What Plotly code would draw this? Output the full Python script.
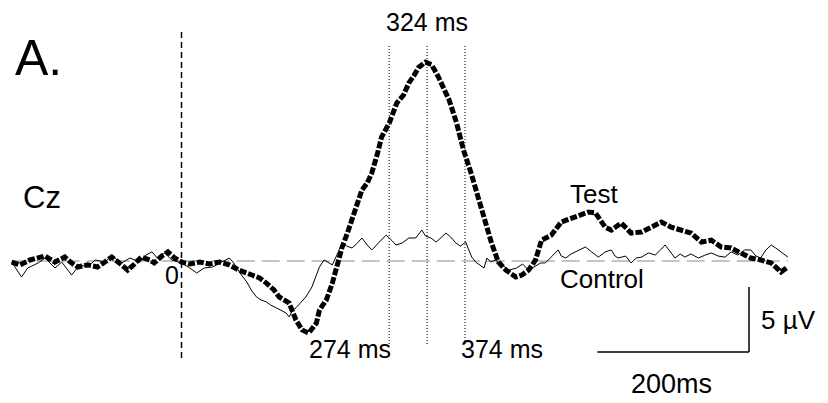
import plotly.graph_objects as go

# ---- data (time in ms, amplitude in µV) ----
test_t = [-224, -213, -200, -180, -167, -154, -145, -137, -124, -111, -101, -92, -82, -71, -62, -53, -42, -36, -26, -18, -9,
          0, 11, 24, 37, 50, 63, 76, 93, 103, 112, 122, 129, 142, 151, 159, 168, 178, 182, 191, 199, 205, 212, 218, 225,
          232, 238, 245, 251, 258, 264, 274, 284, 293, 300, 307, 313, 322, 330, 339, 346, 353, 363, 372, 382, 392, 401,
          409, 418, 428, 441, 449, 458, 467, 475, 488, 501, 514, 528, 537, 546, 559, 567, 580, 593, 607, 620, 633, 646,
          659, 672, 686, 699, 712, 725, 738, 751, 764, 778, 791, 800]
test_v = [-0.08, -0.3, 0.08, 0.38, -0.08, 0.3, -0.15, -0.46, -0.3, -0.46, -0.08, 0.3, -0.15, -0.7, -0.23, 0.3, 0.08, -0.15, 0.38, 0.7, 0.23,
          -0.08, -0.23, -0.08, -0.23, -0.08, -0.3, -0.7, -1.08, -1.3, -1.7, -2.23, -2.77, -3.23, -4.54, -5.3, -5.54, -4.77, -3.77, -3.0, -1.7, -0.3, 1.08, 2.0, 3.15,
          4.3, 5.46, 6.0, 6.77, 8.15, 9.54, 10.6, 12.15, 12.77, 13.7, 14.3, 14.9, 15.3, 15.1, 14.15, 13.3, 12.4, 10.6, 8.54, 6.77, 4.7, 2.92,
          1.38, -0.08, -0.7, -1.23, -1.08, -0.7, 0.08, 1.6, 2.0, 3.0, 3.3, 3.54, 3.77, 3.7, 2.6, 2.38, 2.92, 2.15, 2.23, 2.6, 3.0, 2.6,
          2.38, 2.15, 1.46, 1.6, 1.08, 1.0, 0.62, 0.23, 0.08, -0.15, -0.85, -0.46]

control_t = [-224, -217, -211, -203, -189, -180, -167, -158, -145, -134, -124, -114, -101, -92, -79, -68, -55, -47, -39, -32, -22, -13,
             0, 11, 20, 30, 41, 53, 63, 68, 72, 79, 86, 92, 99, 105, 112, 118, 125, 132, 138, 142, 147, 151, 158, 164, 172, 178,
             182, 188, 193, 199, 205, 212, 218, 225, 232, 238, 245, 251, 261, 270, 278, 283, 291, 300, 309, 317, 322, 329, 336,
             342, 349, 355, 362, 368, 375, 379, 383, 388, 392, 399, 403, 408, 414, 421, 432, 442, 450, 458, 467, 474, 480, 488,
             497, 501, 507, 514, 524, 533, 541, 550, 559, 567, 572, 576, 586, 593, 600, 607, 616, 625, 632, 638, 645, 651, 658,
             664, 672, 682, 691, 699, 708, 717, 725, 734, 743, 751, 758, 764, 771, 778, 784, 791, 800]
control_v = [-0.08, -0.7, -1.23, -0.54, -0.15, 0.23, -0.54, -0.08, -1.08, -0.3, -0.46, 0.08, -0.08, 0.38, -0.15, 0.23, -0.08, 0.46, 0.7, 0.23, 0.62, 0.08,
             -0.15, -0.54, -0.92, -0.54, -0.46, -0.08, 0.23, -0.08, -0.46, -1.08, -1.6, -2.23, -2.77, -3.0, -3.15, -3.4, -3.6, -3.85, -4.0, -4.3, -3.77, -3.6, -3.15, -2.77, -2.0, -1.08,
             -0.46, 0.08, -0.08, -0.3, 0.46, 1.38, 1.15, 1.0, 1.38, 1.77, 1.23, 0.85, 1.46, 2.0, 1.54, 1.23, 1.38, 1.77, 1.77, 2.38, 1.92, 1.77, 1.46,
             1.77, 2.15, 1.85, 1.38, 1.15, 1.46, 0.85, 0.3, -0.08, -0.23, -0.54, 0.23, -0.08, 0.08, -0.23, -0.7, -0.54, -0.23, -0.7, -0.38, -0.15, -0.15, 0.3,
             0.85, 0.38, 0.23, 0.54, 0.85, 1.08, 0.7, 0.3, 0.7, 0.85, 0.38, 0.23, 0.38, -0.15, 0.23, 0.3, 0.62, 0.46, 0.85, 1.23, 0.7, 0.23, 0.54,
             0.3, 0.54, 0.23, 0.46, 0.62, 0.38, 0.3, 0.7, 0.46, 0.85, 0.85, 0.38, 0.23, 0.85, 1.23, 1.0, 0.7, 0.3]

marker_times = [274, 324, 374]
marker_labels = ["274 ms", "324 ms", "374 ms"]
scale_ms = 200
scale_uv = 5

W, H = 828, 403
X0PX, XSCALE = 181.5, 0.758   # pixel of t=0, px per ms
Y0PX, YSCALE = 261.0, 13.0    # pixel of 0 µV, px per µV


def px2t(px):
    return (px - X0PX) / XSCALE


def py2v(py):
    return (Y0PX - py) / YSCALE


fig = go.Figure()
fig.add_trace(go.Scatter(x=control_t, y=control_v, mode="lines",
                         line=dict(color="black", width=1), hoverinfo="skip"))
fig.add_trace(go.Scatter(x=test_t, y=test_v, mode="lines",
                         line=dict(color="black", width=5, dash="7px,2px"), hoverinfo="skip"))

shapes = []
# baseline
shapes.append(dict(type="line", x0=test_t[0], x1=test_t[-1], y0=0, y1=0,
                   line=dict(color="#8a8a8a", width=1, dash="18px,7px"), layer="below"))
# stimulus onset
shapes.append(dict(type="line", x0=0, x1=0, y0=py2v(32), y1=py2v(358),
                   line=dict(color="black", width=1.5, dash="6px,4px")))
# latency markers
for t in marker_times:
    shapes.append(dict(type="line", x0=t, x1=t, y0=py2v(46), y1=py2v(345),
                       line=dict(color="black", width=1, dash="1px,2px")))
# scale bars
sx1 = px2t(749)
shapes.append(dict(type="line", x0=sx1 - scale_ms, x1=sx1, y0=py2v(352), y1=py2v(352),
                   line=dict(color="black", width=1.5)))
shapes.append(dict(type="line", x0=sx1, x1=sx1, y0=py2v(352), y1=py2v(352) + scale_uv,
                   line=dict(color="black", width=1.5)))

FONT = "Liberation Sans, Arial, sans-serif"


def ann(text, px, py, size, xanchor="center"):
    return dict(text=text, x=px / W, y=1 - py / H, xref="paper", yref="paper",
                xanchor=xanchor, yanchor="middle", showarrow=False,
                font=dict(family=FONT, size=size, color="black"))


annotations = [
    ann("A.", 13, 58, 50, "left"),
    ann("Cz", 21, 197, 31, "left"),
    ann("0", 172, 275, 25),
    ann(marker_labels[1], 427, 22, 25),
    ann(marker_labels[0], 350, 349, 25),
    ann(marker_labels[2], 502, 349, 25),
    ann("Test", 594, 194, 26),
    ann("Control", 602, 279, 26),
    ann("5 µV", 788, 320, 26),
    ann("200ms", 671, 384, 27),
]

fig.update_layout(
    width=W, height=H, autosize=False,
    margin=dict(l=0, r=0, t=0, b=0),
    paper_bgcolor="white", plot_bgcolor="white",
    showlegend=False,
    xaxis=dict(range=[px2t(0), px2t(W)], visible=False, fixedrange=True),
    yaxis=dict(range=[py2v(H), py2v(0)], visible=False, fixedrange=True),
    shapes=shapes, annotations=annotations,
)

fig.write_html("out.html", config={"displayModeBar": False},
               post_script="document.body.style.margin='0px';document.body.style.overflow='hidden';")
